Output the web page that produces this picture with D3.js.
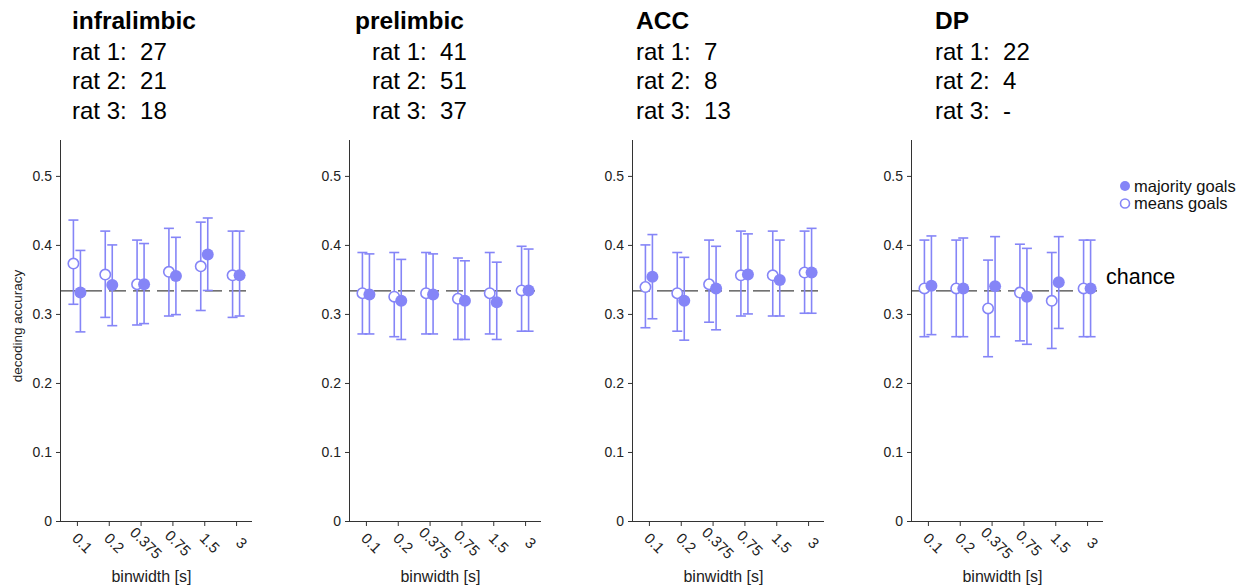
<!DOCTYPE html>
<html>
<head>
<meta charset="utf-8">
<script src="https://cdn.jsdelivr.net/npm/d3@7"></script>
<style>
  html, body { margin: 0; padding: 0; background: #fff; }
  svg { display: block; font-family: Arial, "Liberation Sans", sans-serif; }
</style>
</head>
<body>
<svg id="chart" width="1245" height="588"></svg>
<script>
// ---------- data ----------
const categories = ["0.1", "0.2", "0.375", "0.75", "1.5", "3"];
const regions = ["infralimbic", "prelimbic", "ACC", "DP"];
const ratCounts = [["27", "21", "18"], ["41", "51", "37"], ["7", "8", "13"], ["22", "4", "-"]];
const yTicks = [0, 0.1, 0.2, 0.3, 0.4, 0.5];
const chanceLevel = 1 / 3;

const majorityMean = [
  [0.331, 0.342, 0.343, 0.355, 0.386, 0.356],
  [0.328, 0.319, 0.328, 0.319, 0.317, 0.334],
  [0.354, 0.319, 0.337, 0.357, 0.349, 0.360],
  [0.341, 0.337, 0.340, 0.325, 0.346, 0.337]
];
const majorityHigh = [
  [0.392, 0.400, 0.402, 0.411, 0.439, 0.420],
  [0.387, 0.379, 0.387, 0.377, 0.375, 0.394],
  [0.415, 0.382, 0.398, 0.416, 0.407, 0.424],
  [0.413, 0.410, 0.412, 0.395, 0.412, 0.407]
];
const majorityLow = [
  [0.274, 0.283, 0.286, 0.299, 0.334, 0.297],
  [0.271, 0.263, 0.271, 0.263, 0.263, 0.275],
  [0.293, 0.262, 0.277, 0.300, 0.297, 0.301],
  [0.270, 0.267, 0.267, 0.256, 0.279, 0.267]
];
const meansMean = [
  [0.373, 0.357, 0.343, 0.361, 0.369, 0.356],
  [0.330, 0.325, 0.330, 0.322, 0.330, 0.334],
  [0.339, 0.330, 0.343, 0.356, 0.356, 0.360],
  [0.337, 0.337, 0.308, 0.331, 0.319, 0.337]
];
const meansHigh = [
  [0.436, 0.420, 0.407, 0.424, 0.433, 0.420],
  [0.389, 0.389, 0.389, 0.381, 0.389, 0.398],
  [0.400, 0.389, 0.407, 0.420, 0.420, 0.420],
  [0.407, 0.407, 0.378, 0.401, 0.389, 0.407]
];
const meansLow = [
  [0.314, 0.295, 0.284, 0.297, 0.305, 0.295],
  [0.271, 0.267, 0.271, 0.263, 0.271, 0.275],
  [0.280, 0.275, 0.288, 0.297, 0.297, 0.301],
  [0.267, 0.267, 0.238, 0.261, 0.250, 0.267]
];

// ---------- layout ----------
const color = "#8585f7";
const panelLeft = [61, 350, 633, 912];
const panelWidth = 191;
const plotTop = 140, plotBottom = 521;
const titleX = [72, 355, 636, 935];
const ratX = [72, 372, 636, 935];
const fontFam = "Arial, 'Liberation Sans', sans-serif";

const svg = d3.select("#chart");

const y = d3.scaleLinear().domain([0, 0.552]).range([plotBottom, plotTop]);

regions.forEach((reg, p) => {
  const x = d3.scaleLinear().domain([0.5, 6.5]).range([panelLeft[p], panelLeft[p] + panelWidth]);
  const g = svg.append("g");

  // title and counts
  g.append("text").attr("x", titleX[p]).attr("y", 29)
    .attr("font-size", 24.5).attr("font-weight", "bold").attr("fill", "#000").text(reg);
  ratCounts[p].forEach((c, i) => {
    g.append("text").attr("x", ratX[p]).attr("y", 60 + i * 29.3)
      .attr("font-size", 24).attr("fill", "#000")
      .attr("xml:space", "preserve").style("white-space", "pre")
      .text("rat " + (i + 1) + ":  " + c);
  });

  // y axis
  const yAxis = d3.axisLeft(y).tickValues(yTicks).tickSize(5).tickPadding(4)
    .tickFormat(d => d === 0 ? "0" : d3.format(".1f")(d));
  const ya = g.append("g").attr("transform", `translate(${panelLeft[p]},0)`).call(yAxis);
  ya.select(".domain").attr("d", `M-0.5,${plotBottom}V${plotTop}`).attr("stroke", "#333");
  ya.selectAll(".tick line").attr("stroke", "#333");
  ya.selectAll(".tick text").attr("font-size", 14).attr("fill", "#222").attr("font-family", fontFam);

  // x axis
  const xAxis = d3.axisBottom(x).tickValues(d3.range(1, 7)).tickSize(5)
    .tickFormat(d => categories[d - 1]);
  const xa = g.append("g").attr("transform", `translate(0,${plotBottom})`).call(xAxis);
  xa.select(".domain").attr("d", `M${panelLeft[p]},0.5H${panelLeft[p] + panelWidth}`).attr("stroke", "#333");
  xa.selectAll(".tick line").attr("stroke", "#333");
  xa.selectAll(".tick text")
    .attr("font-size", 15).attr("fill", "#222").attr("font-family", fontFam)
    .attr("text-anchor", "middle").attr("dy", "0.35em")
    .attr("transform", "translate(5,22) rotate(45)")
    .attr("x", 0).attr("y", 0);

  g.append("text").attr("x", panelLeft[p] + 90.5).attr("y", 582)
    .attr("text-anchor", "middle").attr("font-size", 16).attr("fill", "#222").text("binwidth [s]");

  // chance line
  g.append("line")
    .attr("x1", panelLeft[p]).attr("x2", panelLeft[p] + panelWidth)
    .attr("y1", y(chanceLevel)).attr("y2", y(chanceLevel))
    .attr("stroke", "#444").attr("stroke-width", 1.2).attr("stroke-dasharray", "17,7");

  const off = 0.11;
  const capHalf = 5;

  // error bars: means (left) and majority (right)
  const drawBars = (lows, highs, dx) => {
    categories.forEach((c, i) => {
      const cx = x(i + 1 + dx);
      const lo = y(lows[p][i]), hi = y(highs[p][i]);
      g.append("line").attr("x1", cx).attr("x2", cx).attr("y1", lo).attr("y2", hi)
        .attr("stroke", color).attr("stroke-width", 1.6);
      [lo, hi].forEach(yy => {
        g.append("line").attr("x1", cx - capHalf).attr("x2", cx + capHalf).attr("y1", yy).attr("y2", yy)
          .attr("stroke", color).attr("stroke-width", 1.6);
      });
    });
  };
  drawBars(meansLow, meansHigh, -off);
  drawBars(majorityLow, majorityHigh, off);

  // points
  g.selectAll(".means").data(meansMean[p]).enter().append("circle")
    .attr("cx", (d, i) => x(i + 1 - off)).attr("cy", d => y(d)).attr("r", 5.2)
    .attr("fill", "#fff").attr("stroke", color).attr("stroke-width", 1.6);
  g.selectAll(".maj").data(majorityMean[p]).enter().append("circle")
    .attr("cx", (d, i) => x(i + 1 + off)).attr("cy", d => y(d)).attr("r", 6)
    .attr("fill", color);
});

// y label
svg.append("text").attr("transform", `translate(22,326) rotate(-90)`)
  .attr("text-anchor", "middle").attr("font-size", 13.5).attr("fill", "#222").text("decoding accuracy");

// legend
const legendItems = [{ label: "majority goals", filled: true }, { label: "means goals", filled: false }];
legendItems.forEach((it, i) => {
  const yy = 186 + i * 17.5;
  svg.append("circle").attr("cx", 1125).attr("cy", yy).attr("r", it.filled ? 5 : 4.5)
    .attr("fill", it.filled ? color : "#fff").attr("stroke", it.filled ? "none" : color).attr("stroke-width", 1.6);
  svg.append("text").attr("x", 1134).attr("y", yy + 5.5).attr("font-size", 16.5).attr("fill", "#111").text(it.label);
});

svg.append("text").attr("x", 1106).attr("y", 284).attr("font-size", 21.5).attr("fill", "#000").text("chance");
</script>
</body>
</html>
